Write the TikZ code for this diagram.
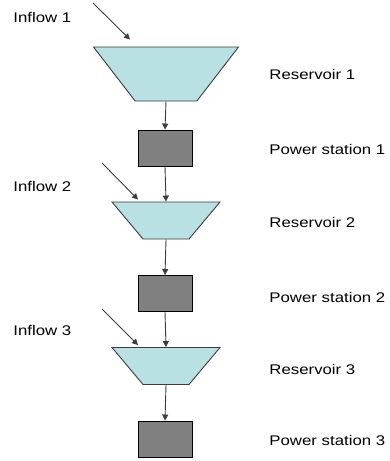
\documentclass[tikz,border=0pt]{standalone}
\usepackage{fontspec}
\setmainfont{Liberation Sans}[FakeStretch=1.2]
\usetikzlibrary{arrows.meta,shapes.geometric}

\definecolor{lake}{RGB}{185,224,227}
\definecolor{edgegray}{RGB}{60,60,60}
\definecolor{plant}{RGB}{128,128,128}

\begin{document}
\begin{tikzpicture}[x=1pt, y=-1pt, -{Triangle[width=6pt,length=6pt]}, line width=0.9pt, draw=edgegray,
  reservoir/.style={trapezium, trapezium stretches=true, shape border rotate=180, trapezium angle=56, draw=edgegray, fill=lake, inner sep=1pt, line width=0.9pt},
  station/.style={rectangle, draw=black, fill=plant, minimum width=54pt, minimum height=36pt, inner sep=0pt, line width=0.9pt},
  label/.style={anchor=west, inner sep=0pt, font=\fontsize{14}{16}\selectfont}]

\useasboundingbox (0,0) rectangle (390,461);

\node[reservoir, minimum width=145pt, minimum height=54pt](r1) at (166,74) {};
\node[station](p1) at (165,148) {};
\node[reservoir, minimum width=108pt, minimum height=37pt](r2) at (166,220.5) {};
\node[station](p2) at (165,293.5) {};
\node[reservoir, minimum width=108pt, minimum height=37pt](r3) at (166,366) {};
\node[station](p3) at (165,439) {};

\node[label](i1) at (13,17) {Inflow 1};
\node[label](i2) at (13,186) {Inflow 2};
\node[label](i3) at (13,330) {Inflow 3};
\node[label](l1) at (269,74) {Reservoir 1};
\node[label](l2) at (269,149) {Power station 1};
\node[label](l3) at (269,222) {Reservoir 2};
\node[label](l4) at (269,297) {Power station 2};
\node[label](l5) at (269,369) {Reservoir 3};
\node[label](l6) at (269,440) {Power station 3};

\coordinate (f1) at (93,3);
\coordinate (f2) at (102,163);
\coordinate (f3) at (102,309);

\draw (r1.south) to (p1.north);
\draw (p1.south) to (r2.north);
\draw (r2.south) to (p2.north);
\draw (p2.south) to (r3.north);
\draw (r3.south) to (p3.north);

\draw (f1) to ([shift={(-36,-7)}]r1.north);
\draw (f2) to ([shift={(-28,-2)}]r2.north);
\draw (f3) to ([shift={(-28,-2)}]r3.north);

\end{tikzpicture}
\end{document}
